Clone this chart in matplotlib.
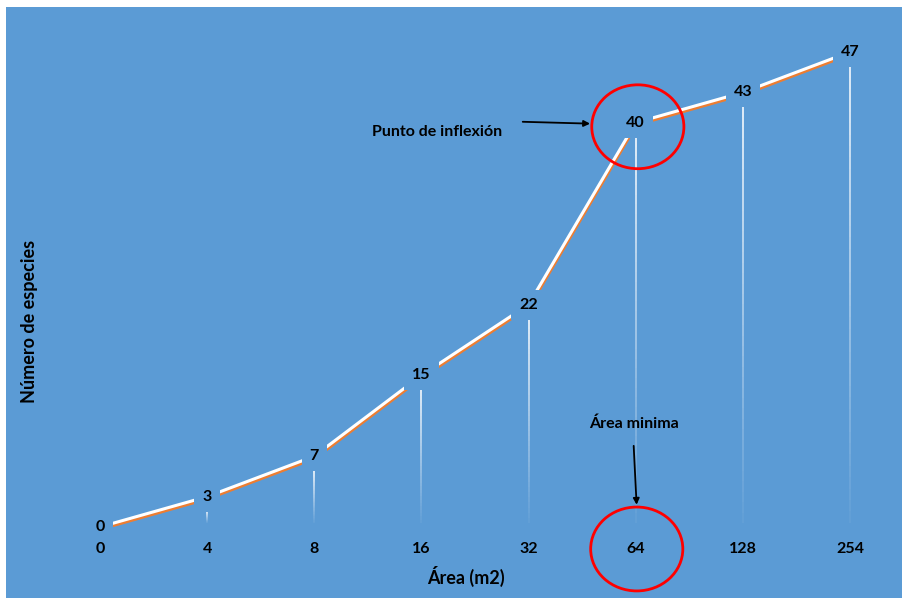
import matplotlib
matplotlib.use('Agg')
import matplotlib.pyplot as plt
import matplotlib.transforms as mtransforms
from matplotlib.patches import Ellipse
from matplotlib.collections import LineCollection
import numpy as np

plt.rcParams['font.family'] = ['Lato', 'DejaVu Sans']
plt.rcParams['font.weight'] = 'bold'

areas = ['0', '4', '8', '16', '32', '64', '128', '254']
especies = [0, 3, 7, 15, 22, 40, 43, 47]
inflexion = 5  # index of the "64" category

blue = '#5B9BD5'
orange = '#ED7D31'

fig = plt.figure(figsize=(9.03, 5.98), dpi=100)
fig.patch.set_facecolor('white')

# the axes fills the whole blue chart area
ax = fig.add_axes([6 / 903, 0, 1 - 6 / 903, 1 - 7 / 598])
ax.set_facecolor(blue)
ax.set_xlim(-0.877, 7.495)
ax.set_ylim(-7.03, 51.45)
ax.set_xticks([])
ax.set_yticks([])
for s in ax.spines.values():
    s.set_visible(False)

x = np.arange(len(areas))
y = np.array(especies, dtype=float)

# drop lines fading towards the axis
for xi, yi in zip(x[1:], y[1:]):
    top, bottom = yi - 1.4, 0.4
    n = 40
    ys = np.linspace(top, bottom, n + 1)
    segs = [[(xi, ys[k]), (xi, ys[k + 1])] for k in range(n)]
    alphas = np.linspace(0.95, 0.05, n)
    cols = [(1, 1, 1, a) for a in alphas]
    ax.add_collection(LineCollection(segs, colors=cols, linewidths=1.2, zorder=2))

# orange shadow under the white line
shadow = mtransforms.offset_copy(ax.transData, fig=fig, x=0.6, y=-2.0, units='dots')
ax.plot(x, y, color=orange, lw=2.4, transform=shadow, zorder=3, solid_capstyle='butt')
ax.plot(x, y, color='white', lw=2.2, zorder=4, solid_capstyle='butt')

for xi, yi in zip(x, y):
    ax.text(xi, yi, f'{int(yi)}', ha='center', va='center', fontsize=11.5, color='black',
            zorder=5, bbox=dict(boxstyle='square,pad=0.5', facecolor=blue, edgecolor='none'))

tick_y = -2.18
for xi, lab in zip(x, areas):
    ax.text(xi, tick_y, lab, ha='center', va='center', fontsize=11.5, color='black', zorder=5)

ax.text(3.42, -4.95, 'Área (m2)', ha='center', va='center', fontsize=13, color='black')
ax.text(-0.653, 20.3, 'Número de especies', ha='center', va='center', rotation=90,
        fontsize=13, color='black')

# circles around the inflexion point and the minimal area
ax.add_patch(Ellipse((x[inflexion] + 0.02, y[inflexion] - 0.4), 0.86, 8.3, fill=False,
                     edgecolor='#FF0000', lw=2, zorder=6))
ax.add_patch(Ellipse((x[inflexion] + 0.01, tick_y), 0.86, 8.3, fill=False,
                     edgecolor='#FF0000', lw=2, zorder=6))

ax.annotate('', xy=(x[inflexion] - 0.4, y[inflexion] - 0.1), xytext=(x[inflexion] - 1.08, y[inflexion] + 0.1),
            arrowprops=dict(arrowstyle='-|>', color='black', lw=1.3, mutation_scale=9))
ax.text(3.15, 39.1, 'Punto de inflexión', ha='center', va='center', fontsize=11.5, color='black')

ax.annotate('', xy=(x[inflexion] + 0.01, tick_y + 4.1), xytext=(x[inflexion] - 0.02, 8.3),
            arrowprops=dict(arrowstyle='-|>', color='black', lw=1.3, mutation_scale=9))
ax.text(x[inflexion] - 0.02, 10.2, 'Área minima', ha='center', va='center', fontsize=11.5, color='black')

fig.savefig('out.png', dpi=100, facecolor='white')
